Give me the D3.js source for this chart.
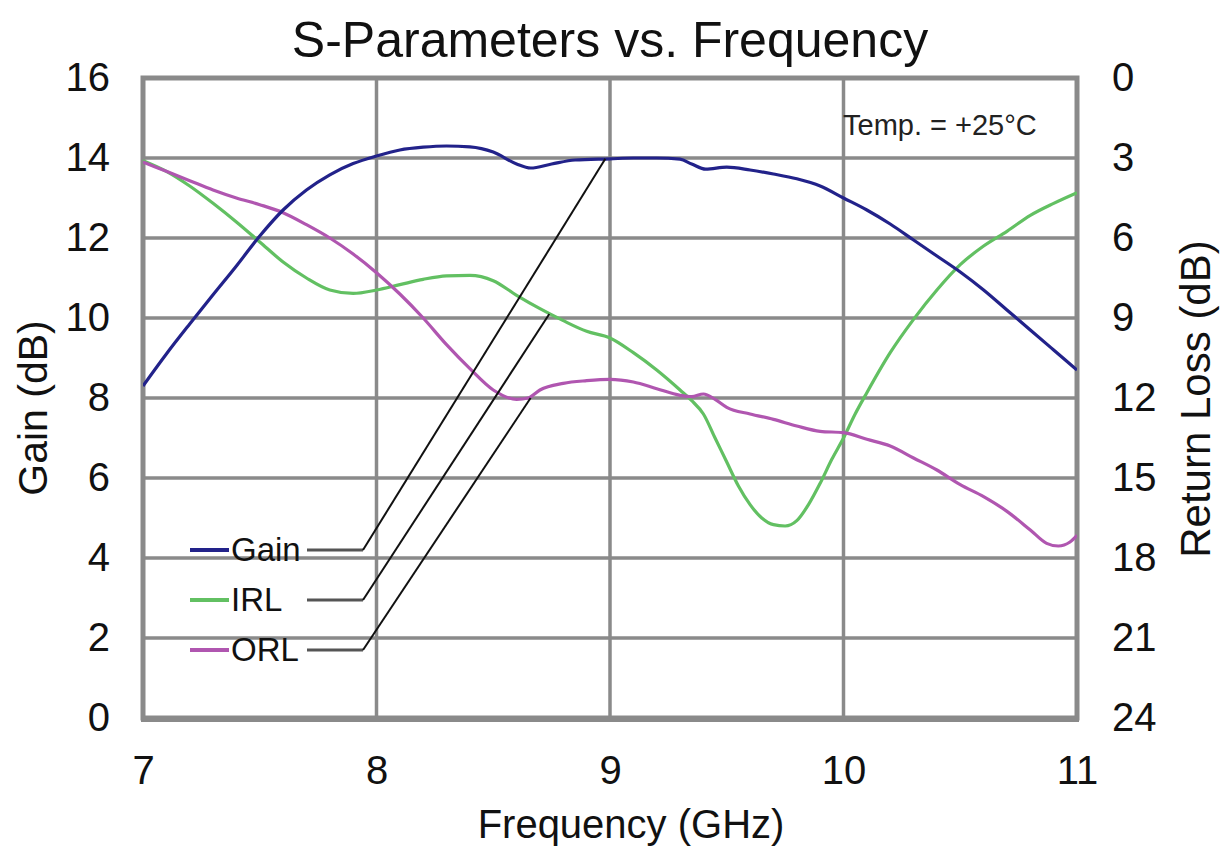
<!DOCTYPE html>
<html>
<head>
<meta charset="utf-8">
<script src="https://cdn.jsdelivr.net/npm/d3@7"></script>
<style>
  html, body { margin: 0; padding: 0; background: #fff; }
  svg { display: block; font-family: "Liberation Sans", Arial, sans-serif; }
</style>
</head>
<body>
<svg id="chart" width="1228" height="847"></svg>
<script>
// ---------- data ----------
const gainFreq = [7.0,7.1,7.2,7.3,7.4,7.5,7.6,7.7,7.8,7.9,8.0,8.1,8.2,8.3,8.4,8.5,8.6,8.66,8.75,8.85,9.0,9.1,9.2,9.3,9.35,9.41,9.5,9.6,9.7,9.8,9.9,10.0,10.1,10.2,10.3,10.4,10.5,10.6,10.7,10.8,10.9,11.0];
const gainVals = [8.3,9.1,9.85,10.58,11.3,12.05,12.7,13.2,13.58,13.86,14.05,14.2,14.27,14.3,14.28,14.15,13.85,13.75,13.85,13.95,13.98,14.0,14.0,13.97,13.85,13.72,13.77,13.7,13.6,13.48,13.3,13.0,12.7,12.35,11.95,11.55,11.15,10.7,10.2,9.7,9.2,8.7];

const irlFreq = [7.0,7.1,7.2,7.3,7.4,7.5,7.6,7.7,7.8,7.9,8.0,8.1,8.2,8.3,8.4,8.5,8.6,8.7,8.8,8.9,9.0,9.1,9.2,9.3,9.35,9.4,9.45,9.5,9.55,9.6,9.65,9.7,9.75,9.8,9.85,9.9,9.95,10.0,10.05,10.1,10.2,10.3,10.4,10.5,10.6,10.7,10.8,10.9,11.0];
const irlVals = [3.1,3.5,4.05,4.7,5.4,6.15,6.9,7.5,7.95,8.08,7.95,7.75,7.55,7.42,7.4,7.6,8.15,8.65,9.1,9.5,9.75,10.3,10.95,11.7,12.1,12.6,13.5,14.4,15.3,16.0,16.5,16.75,16.8,16.6,16.0,15.2,14.3,13.5,12.6,11.8,10.3,9.05,7.95,7.0,6.3,5.75,5.15,4.7,4.3];

const orlFreq = [7.0,7.1,7.2,7.3,7.4,7.5,7.6,7.7,7.8,7.9,8.0,8.1,8.2,8.3,8.4,8.5,8.6,8.65,8.7,8.8,8.9,9.0,9.1,9.2,9.3,9.35,9.4,9.45,9.5,9.6,9.7,9.8,9.9,10.0,10.1,10.2,10.3,10.4,10.5,10.6,10.7,10.8,10.87,10.92,10.97,11.0];
const orlVals = [3.15,3.5,3.85,4.2,4.5,4.75,5.05,5.5,6.0,6.6,7.3,8.1,9.0,10.0,10.9,11.7,12.05,12.0,11.7,11.45,11.35,11.3,11.4,11.65,11.9,11.95,11.85,12.05,12.35,12.6,12.8,13.05,13.25,13.3,13.55,13.8,14.25,14.7,15.25,15.7,16.25,16.95,17.45,17.55,17.4,17.15];

const xTicks = [7, 8, 9, 10, 11];
const gainTicks = [0, 2, 4, 6, 8, 10, 12, 14, 16];
const rlTicks = [0, 3, 6, 9, 12, 15, 18, 21, 24];

const seriesNames = ["Gain", "IRL", "ORL"];
const seriesColors = ["#22228a", "#62c062", "#b056b0"];
// legend rows (in gain-axis units) and leader targets (freq, value on own axis)
const legendRowGain = [4.2, 2.95, 1.7];
const leaderTargetFreq = [8.98, 8.74, 8.66];
const leaderTargetVal = [13.98, 8.85, 12.0];

// ---------- layout ----------
const svg = d3.select("#chart");
const L = 143, R = 1077, T = 78, B = 718;
const x = d3.scaleLinear().domain([7, 11]).range([L, R]);
const yG = d3.scaleLinear().domain([0, 16]).range([B, T]);
const yR = d3.scaleLinear().domain([0, 24]).range([T, B]);

svg.append("rect").attr("width", 1228).attr("height", 847).attr("fill", "#fff");

const gridColor = "#8a8a8a";
// grid
svg.append("g").selectAll("line.h").data(gainTicks.slice(1, -1)).join("line")
  .attr("x1", L).attr("x2", R).attr("y1", d => yG(d)).attr("y2", d => yG(d))
  .attr("stroke", gridColor).attr("stroke-width", 3.5);
svg.append("g").selectAll("line.v").data(xTicks.slice(1, -1)).join("line")
  .attr("y1", T).attr("y2", B).attr("x1", d => x(d)).attr("x2", d => x(d))
  .attr("stroke", gridColor).attr("stroke-width", 3.5);
// frame
svg.append("rect").attr("x", L).attr("y", T).attr("width", R - L).attr("height", B - T)
  .attr("fill", "none").attr("stroke", gridColor).attr("stroke-width", 5);
svg.append("line").attr("x1", L - 2).attr("x2", R + 2).attr("y1", B + 1).attr("y2", B + 1)
  .attr("stroke", gridColor).attr("stroke-width", 6);

// axes via d3 axis generators (labels only)
const tickFont = 40;
const axB = svg.append("g").attr("transform", `translate(0,${B})`)
  .call(d3.axisBottom(x).tickValues(xTicks).tickFormat(d3.format("d")).tickSize(0).tickPadding(38));
const axL = svg.append("g").attr("transform", `translate(${L},0)`)
  .call(d3.axisLeft(yG).tickValues(gainTicks).tickSize(0).tickPadding(33));
const axR = svg.append("g").attr("transform", `translate(${R},0)`)
  .call(d3.axisRight(yR).tickValues(rlTicks).tickSize(0).tickPadding(35));
[axB, axL, axR].forEach(a => {
  a.select(".domain").remove();
  a.selectAll("text").attr("font-size", tickFont).attr("fill", "#111")
    .attr("font-family", "'Liberation Sans', Arial, sans-serif");
});

// curves
const line = (yScale) => d3.line().x(d => x(d[0])).y(d => yScale(d[1])).curve(d3.curveMonotoneX);
const series = [
  { f: gainFreq, v: gainVals, y: yG },
  { f: irlFreq, v: irlVals, y: yR },
  { f: orlFreq, v: orlVals, y: yR }
];
svg.append("clipPath").attr("id", "plotclip")
  .append("rect").attr("x", L).attr("y", T).attr("width", R - L).attr("height", B - T);
const drawOrder = [1, 2, 0];
drawOrder.forEach(i => {
  const s = series[i];
  const pts = s.f.map((f, j) => [f, s.v[j]]);
  svg.append("path").datum(pts)
    .attr("d", line(s.y))
    .attr("fill", "none").attr("stroke", seriesColors[i])
    .attr("stroke-width", 3.2).attr("stroke-linejoin", "round")
    .attr("clip-path", "url(#plotclip)");
});

// legend
const swX0 = 190, swX1 = 229, txtX = 231, stubX0 = 307, cornerX = 363;
seriesNames.forEach((name, i) => {
  const yRow = yG(legendRowGain[i]);
  svg.append("line").attr("x1", swX0).attr("x2", swX1).attr("y1", yRow).attr("y2", yRow)
    .attr("stroke", seriesColors[i]).attr("stroke-width", 4);
  svg.append("text").attr("x", txtX).attr("y", yRow + 11).attr("font-size", 33)
    .attr("fill", "#111").text(name);
  svg.append("line").attr("x1", stubX0).attr("x2", cornerX).attr("y1", yRow).attr("y2", yRow)
    .attr("stroke", "#555").attr("stroke-width", 3);
  const ty = (i === 0 ? yG : yR)(leaderTargetVal[i]);
  svg.append("line").attr("x1", cornerX).attr("y1", yRow)
    .attr("x2", x(leaderTargetFreq[i])).attr("y2", ty)
    .attr("stroke", "#111").attr("stroke-width", 2);
});

// temperature note
svg.append("text").attr("x", 843).attr("y", 135).attr("font-size", 29).attr("fill", "#222")
  .text("Temp. = +25°C");

// titles
svg.append("text").attr("x", 610).attr("y", 57).attr("text-anchor", "middle")
  .attr("font-size", 50).attr("fill", "#111").text("S-Parameters vs. Frequency");
svg.append("text").attr("x", 631).attr("y", 838).attr("text-anchor", "middle")
  .attr("font-size", 40).attr("fill", "#111").text("Frequency (GHz)");
svg.append("text").attr("transform", "translate(47,408) rotate(-90)").attr("text-anchor", "middle")
  .attr("font-size", 41).attr("fill", "#111").text("Gain (dB)");
svg.append("text").attr("transform", "translate(1210,399) rotate(-90)").attr("text-anchor", "middle")
  .attr("font-size", 42).attr("fill", "#111").text("Return Loss (dB)");
</script>
</body>
</html>
